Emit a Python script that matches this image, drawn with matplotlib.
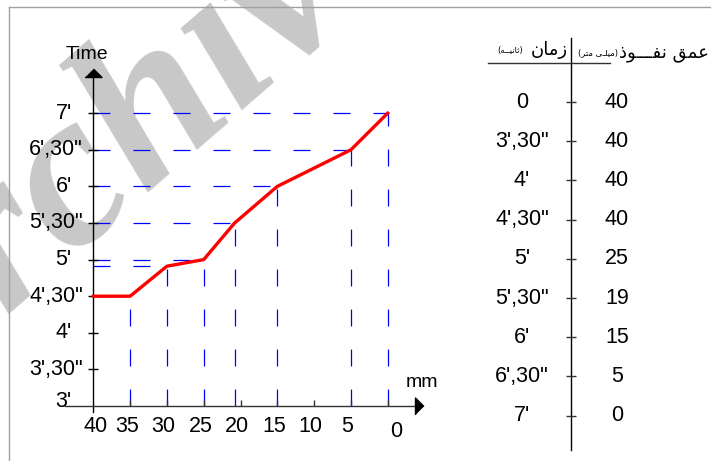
import matplotlib.pyplot as plt

plt.rcParams['font.family'] = ['Liberation Sans', 'DejaVu Sans']
plt.rcParams['lines.scale_dashes'] = False

# penetration depth (mm) vs time (min)
depth_mm = [40, 35, 30, 25, 20.8, 15, 5, 0]
time_min = [4.5, 4.5, 4.91, 5.0, 5.5, 6.0, 6.5, 7.0]

ytick_vals = [3, 3.5, 4, 4.5, 5, 5.5, 6, 6.5, 7]
ytick_labels = ["3'", "3',30\"", "4'", "4',30\"", "5'", "5',30\"", "6'", "6',30\"", "7'"]
xtick_vals = [40, 35, 30, 25, 20, 15, 10, 5, 0]
xtick_labels = ['40', '35', '30', '25', '20', '15', '10', '5', '0']

# table on the right
table_time = ["0", "3',30\"", "4'", "4',30\"", "5'", "5',30\"", "6'", "6',30\"", "7'"]
table_depth = ['40', '40', '40', '40', '25', '19', '15', '5', '0']

# header, pre-shaped arabic presentation forms (visual order)
hdr_depth = '\uFEAB\uFEEE\u0640\u0640\u0640\uFED4\uFEE7 \uFED6\uFEE4\uFECB'
hdr_mm = '(\uFEAE\uFE98\uFEE3 \uFEF0\u0640\uFEE0\uFEF4\uFEE3)'
hdr_time = '\uFEE5\uFE8E\uFEE3\uFEAF'
hdr_sec = '(\uFEEA\u0640\u0640\uFEF4\uFEE7\uFE8E\uFE9B)'

fig = plt.figure(figsize=(7.11, 4.61), dpi=100)

# watermark
fig.text(-0.145, 0.085, 'Archive', fontsize=160, family='Liberation Serif',
         style='italic', fontweight='bold', color='#c8c8c8', rotation=41,
         rotation_mode='anchor', ha='left', va='baseline', zorder=-1)

# chart axes, data coords
ax = fig.add_axes([0, 0, 1, 1])
ax.set_xlim(52.68, -43.93)
ax.set_ylim(2.249, 8.546)
ax.axis('off')

dash = (0, (12.2, 16.6))
for x, t in zip(depth_mm[1:], time_min[1:]):
    ax.plot([x, x], [3, t], color='#0000ff', lw=0.9, linestyle=dash)
    ax.plot([40, x], [t, t], color='#0000ff', lw=0.9, linestyle=dash)

ax.plot(depth_mm, time_min, color='#ff0000', lw=2.4, solid_joinstyle='round', zorder=5)

# axes lines with arrows
ax.plot([40, 40], [2.918, 7.499], color='black', lw=1)
ax.plot([43.85, -3.71], [3, 3], color='#333333', lw=1)
ax.plot([40], [7.499], marker=[(-1, 0), (1, 0), (0, 1)], markersize=12.2,
        color='black', linestyle='none')
ax.plot([-3.71], [3], marker=[(0, -1), (0, 1), (1, 0)], markersize=12.2,
        color='black', linestyle='none')

# y ticks
ax.plot([40] * len(ytick_vals[1:]), ytick_vals[1:], marker='_', markersize=7,
        color='black', linestyle='none', markeredgewidth=1)
for t, lab in zip(ytick_vals, ytick_labels):
    dx = -7.5 if ',' in lab else -15.5
    dy = 3 if t == 3 else 0
    ax.annotate(lab, xy=(40, t), xytext=(dx, dy), textcoords='offset points',
                ha='right', va='center', fontsize=15.5)

# x ticks
ax.plot(xtick_vals[1:], [3] * len(xtick_vals[1:]), marker=2, markersize=4.3,
        color='#333333', linestyle='none', markeredgewidth=1)
for x, lab in zip(xtick_vals, xtick_labels):
    if lab == '0':
        off = (6, -18)
    elif lab == '40':
        off = (1.4, -15)
    else:
        off = (-2.4, -15)
    ax.annotate(lab, xy=(x, 3), xytext=off, textcoords='offset points',
                ha='center', va='center', fontsize=15.5)

ax.annotate('Time', xy=(40, 7.499), xytext=(-4.8, 13), textcoords='offset points',
            ha='center', va='baseline', fontsize=14)
ax.annotate('mm', xy=(-3.71, 3), xytext=(4.7, 13.7), textcoords='offset points',
            ha='center', va='baseline', fontsize=14)

# pixel axes for page lines and table
pa = fig.add_axes([0, 0, 1, 1])
pa.set_xlim(0, 711)
pa.set_ylim(461, 0)
pa.axis('off')

pa.plot([9, 711], [7, 7], color='#a0a0a0', lw=1)
pa.plot([9, 9], [7, 461], color='#a0a0a0', lw=1)

pa.plot([570.7, 570.7], [38, 450], color='black', lw=1)
pa.plot([488, 610], [62.7, 62.7], color='#333333', lw=1)

row_y = [102 + i * 39.2 for i in range(len(table_time))]
pa.plot([570.7] * len(row_y), row_y, marker='_', markersize=6.5, color='#333333',
        linestyle='none', markeredgewidth=1)
for y, tl, dv in zip(row_y, table_time, table_depth):
    pa.text(522, y, tl, ha='center', va='center', fontsize=15.5)
    pa.text(617, y, dv, ha='center', va='center', fontsize=15.5)

pa.text(510, 51, hdr_sec, ha='center', va='center', fontsize=6, family='DejaVu Sans')
pa.text(549, 50, hdr_time, ha='center', va='center', fontsize=13, family='DejaVu Sans')
pa.text(598, 53, hdr_mm, ha='center', va='center', fontsize=6, family='DejaVu Sans')
pa.text(664, 53, hdr_depth, ha='center', va='center', fontsize=13, family='DejaVu Sans')

fig.savefig('out.png', dpi=100)
